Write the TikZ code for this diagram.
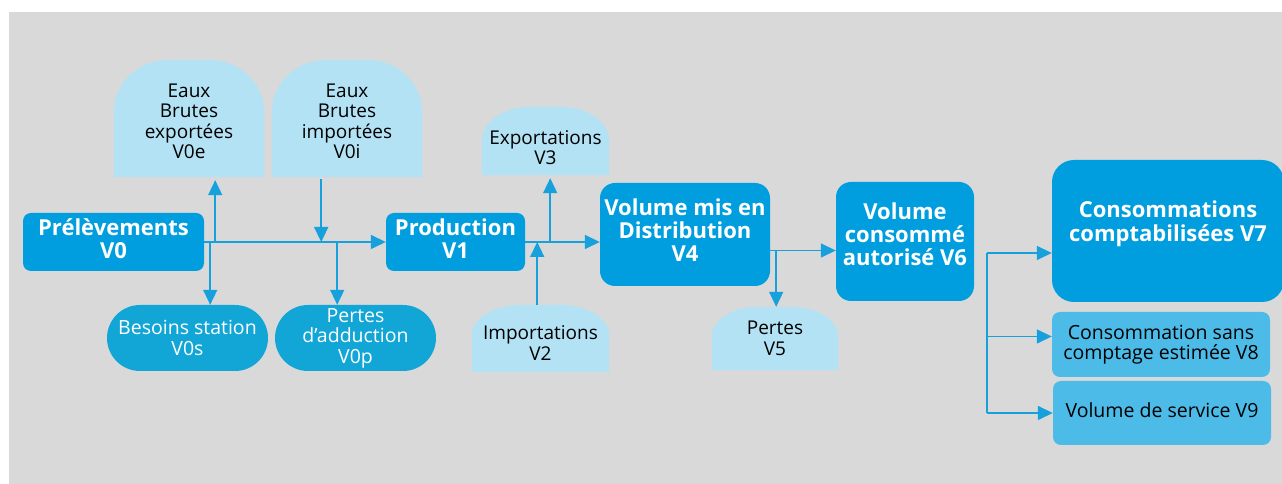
\documentclass[tikz,border=0pt]{standalone}
\usepackage{fontspec}
\setmainfont{Open Sans}
\usetikzlibrary{arrows.meta, positioning, calc, backgrounds}
\definecolor{flowblue}{RGB}{0,158,222}
\definecolor{lossblue}{RGB}{18,166,215}
\definecolor{subblue}{RGB}{76,187,232}
\definecolor{paleblue}{RGB}{179,226,245}
\definecolor{linkblue}{RGB}{22,160,220}
\definecolor{panelgray}{RGB}{217,217,217}
\newcommand{\lift}[1]{\rule[-#1pt]{0pt}{#1pt}}
\newcommand{\drop}[1]{\rule{0pt}{#1pt}}

\begin{document}
\begin{tikzpicture}[x=1pt, y=1pt,
  mainbox/.style={fill=flowblue, rounded corners=8pt, text=white, align=center, inner sep=0pt, font=\fontsize{22}{23}\selectfont\bfseries},
  lossbox/.style={fill=lossblue, rounded corners=33pt, text=white, align=center, inner sep=0pt, font=\fontsize{19.5}{20.5}\selectfont},
  subbox/.style={fill=subblue, rounded corners=8pt, align=center, inner sep=0pt, font=\fontsize{19.5}{20.5}\selectfont},
  domebox/.style={align=center, inner sep=0pt, font=\fontsize{19}{20.5}\selectfont},
  flow/.style={draw=linkblue, line width=1.5pt, -{Triangle[length=15pt, width=14pt]}},
  link/.style={draw=linkblue, line width=1.5pt}
]
  \useasboundingbox (0,0) rectangle (1282,484);

  \node[mainbox, minimum width=181pt, minimum height=58pt] (v0) at (113.5,242) {Prélèvements\\V0\lift{6}};
  \node[domebox, minimum width=150pt, minimum height=117pt] (v0e) at (189,365.5) {\drop{19.5}Eaux\\Brutes\\exportées\\V0e};
  \node[domebox, minimum width=150pt, minimum height=117pt] (v0i) at (347,365.5) {\drop{19.5}Eaux\\Brutes\\importées\\V0i};
  \node[lossbox, minimum width=161pt, minimum height=66pt] (v0s) at (187.5,146) {Besoins station\\V0s};
  \node[lossbox, minimum width=161pt, minimum height=66pt] (v0p) at (355.5,146) {Pertes\\d’adduction\\V0p};
  \node[mainbox, minimum width=139pt, minimum height=58pt] (v1) at (455.5,242) {Production\\V1\lift{6}};
  \node[domebox, minimum width=127pt, minimum height=68pt] (v3) at (545.5,343) {\drop{27}Exportations\\V3};
  \node[domebox, minimum width=137pt, minimum height=67pt] (v2) at (540.5,145.5) {\drop{23.5}Importations\\V2};
  \node[mainbox, minimum width=170pt, minimum height=103pt, rounded corners=15pt] (v4) at (685,249.5) {Volume mis en\\Distribution\\V4\lift{8}};
  \node[domebox, minimum width=126pt, minimum height=63pt] (v5) at (775,145.5) {Pertes\\V5};
  \node[mainbox, minimum width=138pt, minimum height=119pt, rounded corners=15pt] (v6) at (905,242.5) {Volume\\consommé\\autorisé V6\lift{14}};
  \node[mainbox, minimum width=232pt, minimum height=142pt, rounded corners=22pt,
    label={[text=white, align=center, font=\fontsize{22}{24}\selectfont\bfseries, anchor=north, yshift=-37pt]north:{Consommations\\comptabilisées V7}}] (v7) at (1168,253) {};
  \node[subbox, minimum width=218pt, minimum height=65pt] (v8) at (1161,139.5) {Consommation sans\\comptage estimée V8};
  \node[subbox, minimum width=218pt, minimum height=64pt] (v9) at (1162,71) {Volume de service V9\lift{6}};

  \coordinate (j0s) at ($(v0.east)+(6,0)$);
  \coordinate (j0e) at ($(v0.east)+(11,0)$);
  \coordinate (j0i) at ($(v0.east)+(117,0)$);
  \coordinate (j0p) at ($(v0.east)+(133,0)$);
  \coordinate (j2) at ($(v1.east)+(12,0)$);
  \coordinate (j3) at ($(v1.east)+(25,0)$);
  \coordinate (j4) at ($(v4.east)+(0,-16)$);
  \coordinate (j5) at ($(j4)+(6,0)$);
  \coordinate (b7) at ($(v6.east)+(13,-11.5)$);
  \coordinate (b8) at ($(b7 |- v8)+(0,8)$);
  \coordinate (b9) at (b7 |- v9);

  \draw[flow] (v0.east) -- (v1.west);
  \draw[flow, shorten >=3pt] (j0e) -- (j0e |- v0e.south);
  \draw[flow] (j0s) -- (j0s |- v0s.north);
  \draw[flow, shorten <=2pt] (j0i |- v0i.south) -- (j0i);
  \draw[flow] (j0p) -- (j0p |- v0p.north);
  \draw[flow] (v1.east) -- (v1.east -| v4.west);
  \draw[flow, shorten >=3pt] (j3) -- (j3 |- v3.south);
  \draw[flow] (j2 |- v2.north) -- (j2);
  \draw[flow] (j4) -- (j4 -| v6.west);
  \draw[flow] (j5) -- (j5 |- v5.north);
  \draw[link] (b7) -- (b9);
  \draw[flow] (b7) -- (b7 -| v7.west);
  \draw[flow] (b8) -- (b8 -| v8.west);
  \draw[flow] (b9) -- (b9 -| v9.west);

  \begin{scope}[on background layer]
    \fill[panelgray] (9,0) rectangle (1282,472);
    \foreach \n/\rx/\ry in {v0e/55/52, v0i/55/52, v3/48/34, v2/50/30, v5/46/30}
      \fill[paleblue] (\n.south west) -- ($(\n.north west)+(0,-\ry)$)
        arc[start angle=180, end angle=90, x radius=\rx, y radius=\ry]
        -- ($(\n.north east)+(-\rx,0)$)
        arc[start angle=90, end angle=0, x radius=\rx, y radius=\ry]
        -- (\n.south east) -- cycle;
  \end{scope}
\end{tikzpicture}
\end{document}
